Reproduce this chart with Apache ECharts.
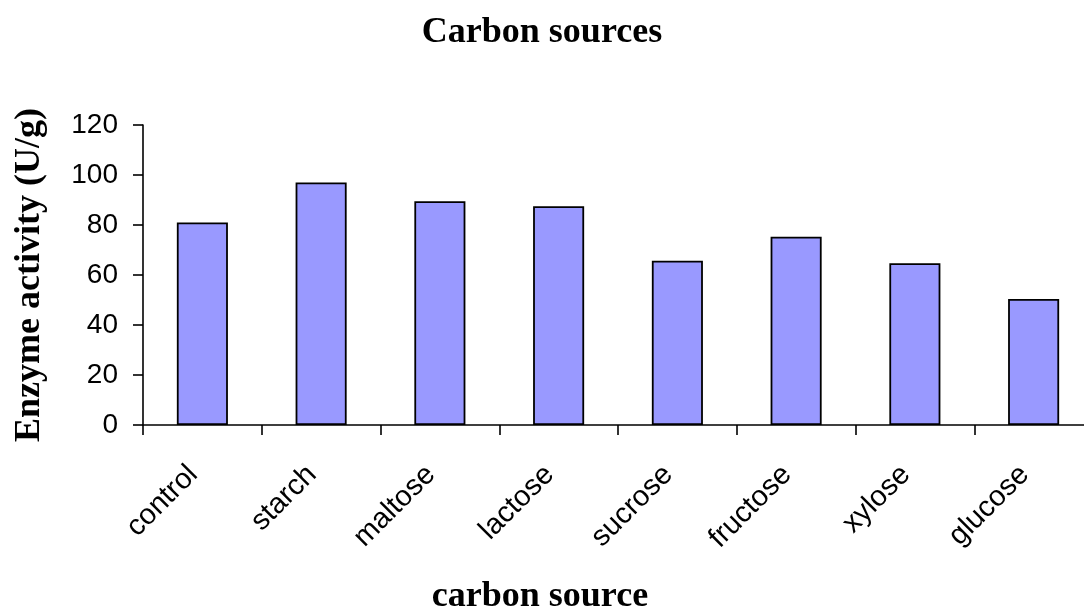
<!DOCTYPE html>
<html>
<head>
<meta charset="utf-8">
<script src="https://cdn.jsdelivr.net/npm/echarts@6/dist/echarts.min.js"></script>
<style>
  html, body { margin: 0; padding: 0; background: #fff; }
  #chart { width: 1084px; height: 614px; }
</style>
</head>
<body>
<div id="chart"></div>
<script>
// Carbon source screening: enzyme activity per source
const categories = ['control', 'starch', 'maltose', 'lactose', 'sucrose', 'fructose', 'xylose', 'glucose'];
const activity = [81, 97, 89.5, 87.5, 65.7, 75.3, 64.7, 50.4];
const yTicks = { min: 0, max: 120, interval: 20 };

const serifBold = { fontFamily: 'Liberation Serif', fontWeight: 'bold', color: '#000' };

const chart = echarts.init(document.getElementById('chart'));
chart.setOption({
  backgroundColor: '#fff',
  animation: false,
  title: {
    text: 'Carbon sources',
    left: 'center',
    top: 10,
    textStyle: Object.assign({ fontSize: 36 }, serifBold)
  },
  grid: { left: 143, top: 125, width: 950, bottom: 189, containLabel: false, outerBoundsMode: 'none' },
  xAxis: {
    type: 'category',
    data: categories,
    name: 'carbon source',
    nameLocation: 'middle',
    nameGap: 154,
    nameTextStyle: Object.assign({ fontSize: 36, padding: [0, 156, 0, 0] }, serifBold),
    axisLine: { lineStyle: { color: '#000', width: 1.6 } },
    axisTick: { show: true, alignWithLabel: false, length: 10, lineStyle: { color: '#000', width: 1.6 } },
    axisLabel: {
      rotate: 45,
      margin: 36,
      padding: [0, 13, 0, 0],
      color: '#000',
      fontSize: 29,
      fontFamily: 'Liberation Sans',
      interval: 0
    }
  },
  yAxis: {
    type: 'value',
    min: yTicks.min,
    max: yTicks.max,
    interval: yTicks.interval,
    name: 'Enzyme activity (U/g)',
    nameLocation: 'middle',
    nameGap: 95,
    nameTextStyle: Object.assign({ fontSize: 36 }, serifBold),
    axisLine: { show: true, lineStyle: { color: '#000', width: 1.6 } },
    axisTick: { show: true, length: 10, lineStyle: { color: '#000', width: 1.6 } },
    splitLine: { show: false },
    axisLabel: {
      margin: 25,
      color: '#000',
      fontSize: 28,
      fontFamily: 'Liberation Sans'
    }
  },
  series: [{
    type: 'bar',
    data: activity,
    barWidth: '43%',
    itemStyle: { color: '#9999FF', borderColor: '#000', borderWidth: 1.8 }
  }]
});
</script>
</body>
</html>
